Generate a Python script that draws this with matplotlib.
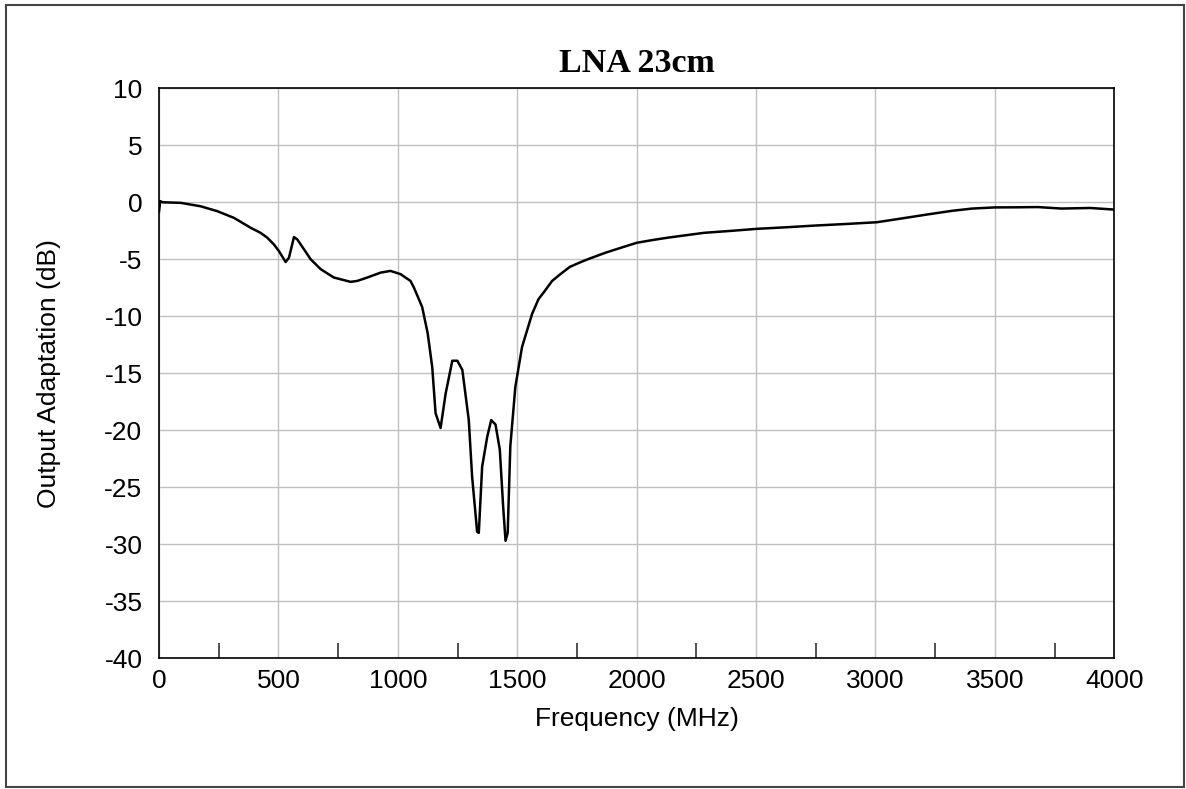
import numpy as np
import matplotlib.pyplot as plt
from matplotlib.patches import Rectangle
from matplotlib.ticker import MultipleLocator

plt.rcParams['axes.unicode_minus'] = False

# frequency (MHz) and output adaptation (dB)
freq = [0, 5, 15, 91, 174, 244, 314, 384, 425, 453, 481, 502, 530, 544, 565,
        579, 607, 635, 677, 732, 802, 830, 872, 928, 969, 1011, 1053, 1067,
        1088, 1102, 1125, 1144, 1158, 1179, 1200, 1228, 1249, 1270, 1297,
        1311, 1332, 1339, 1353, 1374, 1391, 1409, 1427, 1441, 1451, 1460,
        1471, 1492, 1520, 1562, 1589, 1611, 1646, 1681, 1720, 1760, 1795,
        1870, 1940, 2001, 2070, 2132, 2210, 2282, 2400, 2503, 2620, 2749,
        2880, 3006, 3100, 3217, 3320, 3405, 3500, 3592, 3680, 3779, 3900, 4000]
s22 = [-0.8, 0.1, 0.0, -0.05, -0.35, -0.78, -1.37, -2.24, -2.68, -3.1, -3.7,
       -4.28, -5.24, -4.86, -3.05, -3.26, -4.13, -5.0, -5.87, -6.6, -6.98,
       -6.9, -6.6, -6.17, -6.02, -6.3, -6.9, -7.47, -8.5, -9.2, -11.5, -14.46,
       -18.5, -19.8, -16.8, -13.9, -13.9, -14.7, -19.1, -24.06, -28.9, -29.0,
       -23.2, -20.6, -19.1, -19.5, -21.7, -26.7, -29.7, -29.0, -21.4, -16.2,
       -12.7, -9.8, -8.5, -7.9, -6.9, -6.3, -5.67, -5.3, -5.0, -4.42, -3.95,
       -3.55, -3.3, -3.1, -2.88, -2.68, -2.5, -2.33, -2.2, -2.04, -1.9,
       -1.75, -1.45, -1.07, -0.75, -0.55, -0.45, -0.44, -0.42, -0.55, -0.5,
       -0.64]

fig = plt.figure(figsize=(11.86, 7.89), dpi=100)
ax = fig.add_axes([0.1341, 0.1657, 0.8054, 0.7224])

ax.plot(freq, s22, color='black', linewidth=1.8)

ax.set_xlim(0, 4000)
ax.set_ylim(-40, 10)
ax.xaxis.set_major_locator(MultipleLocator(500))
ax.xaxis.set_minor_locator(MultipleLocator(250))
ax.yaxis.set_major_locator(MultipleLocator(5))
ax.grid(True, which='major', color='#c0c0c0', linewidth=1.0)
ax.set_axisbelow(True)
ax.tick_params(axis='x', which='major', length=0, pad=8, labelsize=19)
ax.tick_params(axis='x', which='minor', direction='in', length=11, width=1.2, color='#333333')
ax.tick_params(axis='y', which='major', length=0, pad=12, labelsize=19)
for lab in ax.get_xticklabels() + ax.get_yticklabels():
    lab.set_fontfamily('Liberation Sans')
for sp in ax.spines.values():
    sp.set_color('black')
    sp.set_linewidth(1.2)

ax.set_xlabel('Frequency (MHz)', fontsize=19, family='Liberation Sans')
ax.set_ylabel('Output Adaptation (dB)', fontsize=19, family='Liberation Sans')
ax.xaxis.set_label_coords(0.5, -0.086)
ax.yaxis.set_label_coords(-0.103, 0.5)
ax.set_title('LNA 23cm', fontsize=24.5, fontweight='bold', family='Liberation Serif', pad=12)

fig.patches.append(Rectangle((0.005, 0.002), 0.993, 0.992, transform=fig.transFigure,
                             fill=False, edgecolor='#444444', linewidth=1.5))

fig.savefig('out.png', dpi=100)
